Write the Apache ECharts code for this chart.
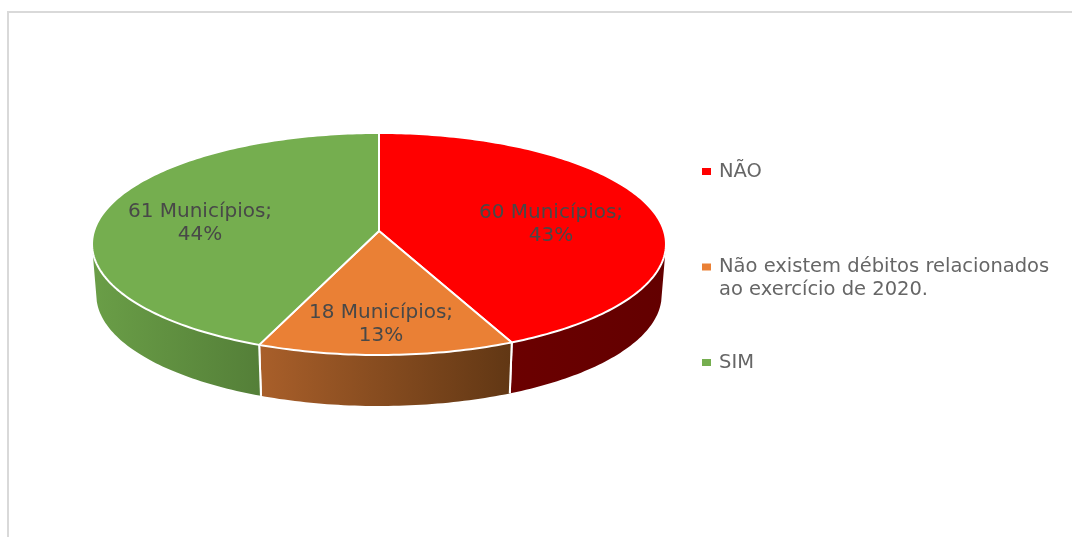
<!DOCTYPE html>
<html>
<head>
<meta charset="utf-8">
<title>Municípios</title>
<script src="https://cdn.jsdelivr.net/npm/echarts@6/dist/echarts.min.js"></script>
<style>
  html, body { margin: 0; padding: 0; background: #fff; }
  #chart { width: 1072px; height: 537px; }
</style>
</head>
<body>
<div id="chart"></div>
<script>
var categories = ['NÃO', 'Não existem débitos relacionados ao exercício de 2020.', 'SIM'];
var municipios = [60, 18, 61];
var topColors = ['#ff0000', '#ea8035', '#75ae4f'];
var sideLeftColors = ['#6b0000', '#a95f2a', '#6a9e47'];
var sideRightColors = ['#630000', '#613714', '#547f38'];

// where the labels sit
var labelAt = [[551, 224], [381, 324], [200, 223]];

// the disc is seen in perspective, so angles go through this projection
var cx = 379, cy = 231, rX = 285, rY = 109.5, tilt = 0.117;
var depth = 51, shrink = 0.985;
var sideFrom = 100, sideTo = 260;

var total = municipios.reduce(function (a, b) { return a + b; }, 0);

function rim(deg) {
  var t = deg * Math.PI / 180;
  var u = Math.sin(t), v = -Math.cos(t);
  var w = 1 - tilt * v;
  return [cx + rX * u / w, cy + rY * v / w];
}

function lowerRim(deg) {
  var p = rim(deg);
  return [cx + (p[0] - cx) * shrink, p[1] + depth];
}

function startAngle(index) {
  var sum = 0;
  for (var i = 0; i < index; i++) sum += municipios[i];
  return sum / total * 360;
}

function makeRender(index) {
  return function (params, api) {
    var value = api.value(0);
    var a = startAngle(index);
    var b = a + value / total * 360;
    var children = [];

    // side wall, only the part facing us
    var from = Math.max(a, sideFrom), to = Math.min(b, sideTo);
    var upper = [], lower = [], d;
    for (d = from; d < to; d += 1) {
      upper.push(rim(d));
      lower.unshift(lowerRim(d));
    }
    upper.push(rim(to));
    lower.unshift(lowerRim(to));
    children.push({
      type: 'polygon',
      shape: { points: upper.concat(lower) },
      style: {
        fill: new echarts.graphic.LinearGradient(0, 0, 1, 0, [
          { offset: 0, color: sideLeftColors[index] },
          { offset: 1, color: sideRightColors[index] }
        ])
      }
    });
    // white edge between walls
    [a, b].forEach(function (e) {
      if (e > sideFrom && e < sideTo) {
        var p = rim(e), q = lowerRim(e);
        children.push({
          type: 'line',
          shape: { x1: p[0], y1: p[1], x2: q[0], y2: q[1] },
          style: { stroke: '#ffffff', lineWidth: 2 }
        });
      }
    });

    // top face
    var face = [[cx, cy]];
    for (d = a; d < b; d += 1) face.push(rim(d));
    face.push(rim(b));
    children.push({
      type: 'polygon',
      shape: { points: face },
      style: { fill: topColors[index], stroke: '#ffffff', lineWidth: 2, lineJoin: 'round' }
    });

    children.push({
      type: 'text',
      style: {
        x: labelAt[index][0],
        y: labelAt[index][1],
        text: value + ' Municípios;\n' + Math.round(value / total * 100) + '%',
        font: '20px "DejaVu Sans"',
        lineHeight: 23,
        fill: '#484848',
        align: 'center',
        verticalAlign: 'middle'
      }
    });
    return { type: 'group', children: children };
  };
}

var series = categories.map(function (name, i) {
  return {
    type: 'custom',
    name: name,
    coordinateSystem: 'none',
    itemStyle: { color: topColors[i] },
    data: [[municipios[i]]],
    renderItem: makeRender(i)
  };
});

var myChart = echarts.init(document.getElementById('chart'));
myChart.setOption({
  animation: false,
  backgroundColor: '#ffffff',
  graphic: [
    { type: 'rect', shape: { x: 7, y: 11, width: 1065, height: 2 }, style: { fill: '#d9d9d9' } },
    { type: 'rect', shape: { x: 7, y: 11, width: 2, height: 526 }, style: { fill: '#d9d9d9' } }
  ],
  legend: {
    orient: 'vertical',
    left: 702,
    top: 160,
    padding: 0,
    icon: 'rect',
    itemWidth: 9,
    itemHeight: 7,
    itemGap: 49.5,
    data: categories,
    formatter: function (name) {
      // blank first line keeps the marker on the first line of text
      if (name === categories[1]) return '\nNão existem débitos relacionados\nao exercício de 2020.';
      return name;
    },
    textStyle: {
      fontFamily: 'DejaVu Sans',
      fontSize: 19.5,
      lineHeight: 23,
      color: '#666666',
      padding: [0, 0, 0, 3]
    }
  },
  series: series
});
</script>
</body>
</html>
